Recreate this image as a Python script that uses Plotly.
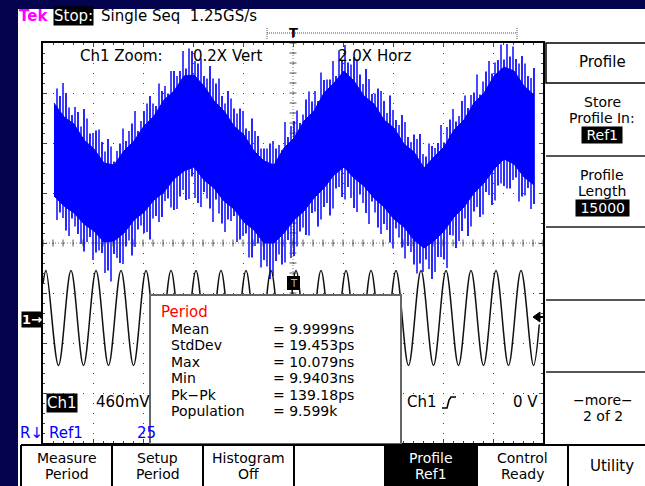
import plotly.graph_objects as go

# Screen x axis: main timebase, ns (20 ns/div, 10 div); y axis: divisions (-4..4)
# Ch1 main waveform (lower trace): extrema times (ns) and voltages (mV)
ch1_t = [0.0, 1.2, 6.2, 11.2, 16.2, 21.2, 26.2, 31.2, 36.2, 41.2, 46.2, 51.2, 56.2,
         61.2, 66.2, 71.2, 76.2, 81.2, 86.2, 91.2, 96.2, 101.2, 106.2, 111.2, 116.2,
         121.2, 126.2, 131.2, 136.2, 141.2, 146.2, 151.2, 156.2, 161.2, 166.2, 171.2,
         176.2, 181.2, 186.2, 191.2, 196.2, 198.5]
ch1_mv = [319, 437, -437, 437, -437, 437, -437, 437, -437, 437, -437, 437, -437,
          437, -437, 437, -437, 437, -437, 437, -437, 437, -437, 437, -437,
          437, -437, 437, -437, 437, -437, 437, -437, 437, -437, 437,
          -437, 437, -437, 437, -437, -60]
CH1_MV_PER_DIV = 460
CH1_OFFSET_DIV = -1.5

# Ch1 zoom trace (upper, blue): dense band envelope (divisions)
prof_t = [4.4, 8.4, 12.4, 16.4, 20.4, 24.4, 28.4, 32.4, 36.4, 40.4, 44.4, 48.4, 52.4,
          56.4, 60.4, 64.4, 68.4, 72.4, 76.4, 80.4, 84.4, 88.4, 92.4, 96.4, 100.4,
          104.4, 108.4, 112.4, 116.4, 120.4, 124.4, 128.4, 132.4, 136.4, 140.4, 144.4,
          148.4, 152.4, 156.4, 160.4, 164.4, 168.4, 172.4, 176.4, 180.4, 184.4, 188.4,
          192.4, 196.4]
prof_upper = [2.80, 2.52, 2.38, 2.06, 1.88, 1.60, 1.56, 1.84, 2.04, 2.34, 2.54, 2.86, 3.04,
              3.34, 3.36, 3.14, 2.84, 2.64, 2.34, 2.16, 1.84, 1.64, 1.56, 1.90, 2.10,
              2.44, 2.64, 3.00, 3.20, 3.44, 3.24, 2.94, 2.78, 2.46, 2.30, 1.98,
              1.82, 1.50, 1.72, 1.92, 2.26, 2.46, 2.80, 3.00, 3.34, 3.52, 3.44,
              3.14, 2.96]
prof_lower = [0.94, 0.74, 0.60, 0.38, 0.24, 0.02, 0.04, 0.20, 0.46, 0.62, 0.86, 1.02, 1.28,
              1.44, 1.52, 1.26, 1.10, 0.84, 0.68, 0.42, 0.26, 0.00, 0.00, 0.20, 0.46,
              0.64, 0.90, 1.10, 1.36, 1.52, 1.30, 1.14, 0.90, 0.72, 0.48, 0.32,
              0.06, -0.10, 0.04, 0.24, 0.52, 0.72, 1.00, 1.20, 1.48, 1.68, 1.58,
              1.32, 1.16]

# noise spikes of the zoom trace: time (ns), top and bottom tips (div) - two interleaved sets
spike_t = [5.6, 8.0, 10.4, 12.8, 15.2, 17.6, 20.0, 22.4, 24.8, 27.2, 29.6, 32.0, 34.4,
           36.8, 39.2, 41.6, 44.0, 46.4, 48.8, 51.2, 53.6, 56.0, 58.4, 60.8, 63.2, 65.6,
           68.0, 70.4, 72.8, 75.2, 77.6, 80.0, 82.4, 84.8, 87.2, 89.6, 92.0, 94.4, 96.8,
           99.2, 101.6, 104.0, 106.4, 108.8, 111.2, 113.6, 116.0, 118.4, 120.8, 123.2,
           125.6, 128.0, 130.4, 132.8, 135.2, 137.6, 140.0, 142.4, 144.8, 147.2, 149.6,
           152.0, 154.4, 156.8, 159.2, 161.6, 164.0, 166.4, 168.8, 171.2, 173.6, 176.0,
           178.4, 180.8, 183.2, 185.6, 188.0, 190.4, 192.8, 195.2]
spike_hi = [3.09, 3.20, 2.71, 2.72, 2.33, 2.49, 2.20, 2.27, 1.83, 1.93,
            1.84, 2.29, 2.24, 2.64, 2.44, 2.79, 2.79, 3.19, 3.14, 3.44,
            3.34, 3.84, 3.89, 3.64, 3.69, 3.29, 3.29, 3.29, 2.79, 2.89,
            2.59, 2.64, 2.24, 2.24, 1.89, 1.89, 2.04, 1.96, 2.42, 2.34,
            2.65, 2.57, 3.03, 3.04, 3.41, 3.27, 3.64, 3.85, 3.96, 3.57,
            3.67, 3.18, 3.28, 2.99, 3.04, 2.60, 2.66, 2.36, 2.42, 2.02,
            2.08, 1.78, 1.99, 1.90, 2.36, 2.32, 2.68, 2.54, 2.95, 2.96,
            3.37, 3.23, 3.64, 3.61, 3.97, 3.98, 3.93, 3.59, 3.59, 3.30]
spike_lo = [0.46, 0.50, 0.14, 0.33, -0.02, 0.02, -0.34, -0.15, -0.60, -0.77,
            -0.30, -0.42, 0.05, -0.08, 0.35, 0.22, 0.49, 0.42, 0.84, 0.71,
            0.68, 1.06, 0.88, 0.90, 0.72, 0.89, 0.42, 0.59, 0.22, 0.44,
            0.02, 0.14, -0.29, -0.06, -0.49, -0.47, -0.66, -0.23, -0.39, -0.30,
            -0.07, 0.31, 0.15, 0.63, 0.47, 0.80, 0.69, 1.12, 0.87, 0.90,
            0.62, 0.80, 0.38, 0.61, 0.18, 0.26, -0.11, 0.11, -0.31, -0.18,
            -0.61, -0.58, -0.52, -0.58, -0.28, -0.50, 0.15, 0.04, 0.49, 0.33,
            0.72, 0.57, 0.96, 0.85, 1.19, 1.09, 1.26, 0.83, 0.95, 0.68]
spike2_t = [6.8, 9.2, 11.6, 14.0, 16.4, 18.8, 21.2, 23.6, 26.0, 28.4, 30.8, 33.2, 35.6,
            38.0, 40.4, 42.8, 45.2, 47.6, 50.0, 52.4, 54.8, 57.2, 59.6, 62.0, 64.4, 66.8,
            69.2, 71.6, 74.0, 76.4, 78.8, 81.2, 83.6, 86.0, 88.4, 90.8, 93.2, 95.6, 98.0,
            100.4, 102.8, 105.2, 107.6, 110.0, 112.4, 114.8, 117.2, 119.6, 122.0, 124.4,
            126.8, 129.2, 131.6, 134.0, 136.4, 138.8, 141.2, 143.6, 146.0, 148.4, 150.8,
            153.2, 155.6, 158.0, 160.4, 162.8, 165.2, 167.6, 170.0, 172.4, 174.8, 177.2,
            179.6, 182.0, 184.4, 186.8, 189.2, 191.6, 194.0, 196.4]
spike2_hi = [2.94, 3.00, 2.56, 2.62, 2.68, 2.19, 2.25, 2.02, 2.08, 1.63,
             1.99, 2.04, 2.39, 2.24, 2.64, 2.94, 2.74, 3.04, 2.99, 3.44,
             3.44, 3.49, 3.84, 3.59, 3.34, 3.54, 3.19, 2.94, 3.04, 2.69,
             2.69, 2.29, 2.49, 2.14, 1.89, 1.99, 1.89, 1.86, 2.12, 2.44,
             2.40, 2.87, 2.83, 2.84, 3.26, 3.27, 3.34, 3.65, 3.61, 3.72,
             3.37, 3.48, 2.98, 3.09, 2.84, 2.95, 2.46, 2.56, 2.12, 2.17,
             2.18, 1.73, 1.94, 2.00, 2.01, 2.47, 2.43, 2.84, 2.70, 3.01,
             2.97, 3.43, 3.39, 3.66, 3.67, 3.73, 3.68, 3.74, 3.34, 3.50]
spike2_lo = [0.61, 0.25, 0.49, 0.18, -0.17, 0.12, -0.19, -0.20, -0.55, -0.22,
             -0.40, -0.07, -0.25, 0.27, 0.20, 0.07, 0.54, 0.52, 0.89, 0.66,
             0.93, 0.86, 1.33, 0.80, 1.02, 0.69, 0.87, 0.39, 0.47, 0.54,
             0.07, 0.19, -0.29, -0.01, -0.34, -0.72, -0.36, -0.43, 0.06, -0.26,
             0.23, 0.16, 0.60, 0.33, 0.72, 0.55, 1.09, 0.92, 1.12, 0.70,
             0.97, 0.60, 0.83, 0.31, 0.38, 0.01, 0.29, -0.09, -0.06, -0.43,
             -0.41, -0.33, -0.72, -0.28, -0.33, 0.16, -0.10, 0.24, 0.14, 0.63,
             0.52, 1.02, 0.76, 1.15, 1.14, 1.09, 1.31, 0.93, 1.10, 0.78]

# measurement readout
meas_labels = ["Mean", "StdDev", "Max", "Min", "Pk\u2212Pk", "Population"]
meas_values = ["= 9.9999ns", "= 19.453ps", "= 10.079ns", "= 9.9403ns", "= 139.18ps", "= 9.599k"]

# bottom menu
menu_labels = [("Measure", "Period"), ("Setup", "Period"), ("Histogram", "Off"), ("", ""),
               ("Profile", "Ref1"), ("Control", "Ready"), ("Utility", None)]

# ---------------- layout helpers ----------------
W, H = 645, 486
NAVY = "#03034e"
FONT = "DejaVu Sans"


def px(x):
    return x / W


def py(y):
    return 1 - y / H


fig = go.Figure()

# graticule centre tick marks
fig.add_trace(go.Scatter(x=[4 * i for i in range(51)], y=[0] * 51, mode="markers",
                         marker=dict(symbol="line-ns", size=5, line=dict(width=1, color="#555")),
                         hoverinfo="skip"))
fig.add_trace(go.Scatter(x=[100] * 41, y=[-4 + 0.2 * i for i in range(41)], mode="markers",
                         marker=dict(symbol="line-ew", size=5, line=dict(width=1, color="#555")),
                         hoverinfo="skip"))

# zoom trace spikes
for ts, his, los, col in [(spike_t, spike_hi, spike_lo, "rgb(40,40,255)"),
                          (spike2_t, spike2_hi, spike2_lo, "rgb(0,0,255)")]:
    sx, sy = [], []
    for t, hi, lo in zip(ts, his, los):
        sx += [t, t, None]
        sy += [lo, hi, None]
    fig.add_trace(go.Scatter(x=sx, y=sy, mode="lines", line=dict(color=col, width=1.7),
                             hoverinfo="skip"))
# zoom trace dense band
fig.add_trace(go.Scatter(x=prof_t, y=prof_lower, mode="lines", line=dict(color="#0000ff", width=1),
                         hoverinfo="skip"))
fig.add_trace(go.Scatter(x=prof_t, y=prof_upper, mode="lines", line=dict(color="#0000ff", width=1),
                         fill="tonexty", fillcolor="#0000ff", hoverinfo="skip"))

# Ch1 main waveform
ch1_div = [CH1_OFFSET_DIV + v / CH1_MV_PER_DIV for v in ch1_mv]
fig.add_trace(go.Scatter(x=ch1_t, y=ch1_div, mode="lines", line=dict(color="#111", width=1.5, shape="spline"),
                         hoverinfo="skip"))

shapes = []
# white screen background
shapes.append(dict(type="rect", xref="paper", yref="paper", x0=px(18), x1=1.02, y0=-0.02, y1=py(9),
                   fillcolor="white", line=dict(width=0), layer="below"))
# centre lines
shapes.append(dict(type="line", xref="x", yref="y", x0=0, x1=200, y0=0, y1=0,
                   line=dict(color="#777", width=1, dash="1px,2px"), layer="below"))
shapes.append(dict(type="line", xref="x", yref="y", x0=100, x1=100, y0=-4, y1=4,
                   line=dict(color="#777", width=1, dash="1px,2px"), layer="below"))
# measurement box
shapes.append(dict(type="rect", xref="paper", yref="paper", x0=px(150), x1=px(401), y0=py(444), y1=py(295),
                   fillcolor="white", line=dict(color="#666", width=2), layer="above"))
# trigger point marker
shapes.append(dict(type="rect", xref="paper", yref="paper", x0=px(287), x1=px(300), y0=py(290), y1=py(276),
                   fillcolor="black", line=dict(width=0), layer="above"))
# trigger level arrow (right edge)
shapes.append(dict(type="path", xref="paper", yref="paper",
                   path=f"M {px(533)},{py(317)} L {px(540)},{py(312)} L {px(540)},{py(322)} Z",
                   fillcolor="black", line=dict(color="black", width=1), layer="above"))
shapes.append(dict(type="line", xref="paper", yref="paper", x0=px(539), x1=px(543), y0=py(317), y1=py(317),
                   line=dict(color="black", width=2), layer="above"))
# trigger slope glyph
shapes.append(dict(type="path", xref="paper", yref="paper",
                   path=(f"M {px(442)},{py(408)} L {px(447)},{py(408)} L {px(449)},{py(400)} "
                         f"L {px(451)},{py(397)} L {px(456)},{py(397)}"),
                   line=dict(color="black", width=1.6), layer="above"))
# right panel
shapes.append(dict(type="rect", xref="paper", yref="paper", x0=px(546), x1=px(665), y0=py(83), y1=py(43),
                   fillcolor="white", line=dict(color="black", width=1.5), layer="above"))
for yy in [156, 227, 300, 372]:
    shapes.append(dict(type="line", xref="paper", yref="paper", x0=px(546), x1=1.02, y0=py(yy), y1=py(yy),
                       line=dict(color="#555", width=2), layer="above"))
# menu bar
shapes.append(dict(type="rect", xref="paper", yref="paper", x0=px(385), x1=px(477), y0=-0.02, y1=py(445),
                   fillcolor="black", line=dict(width=0), layer="above"))
shapes.append(dict(type="line", xref="paper", yref="paper", x0=px(21), x1=1.02, y0=py(445), y1=py(445),
                   line=dict(color="black", width=2), layer="above"))
for xx in [21, 112, 203, 294, 385, 477, 568]:
    shapes.append(dict(type="line", xref="paper", yref="paper", x0=px(xx), x1=px(xx), y0=py(445), y1=-0.02,
                       line=dict(color="black", width=2), layer="above"))
# trigger position bar (top)
shapes.append(dict(type="line", xref="paper", yref="paper", x0=px(267), x1=px(517), y0=py(33), y1=py(33),
                   line=dict(color="#555", width=1, dash="1px,1px"), layer="above"))
for xx in [267, 517]:
    shapes.append(dict(type="line", xref="paper", yref="paper", x0=px(xx), x1=px(xx), y0=py(28), y1=py(39),
                       line=dict(color="#555", width=1, dash="1px,1px"), layer="above"))
shapes.append(dict(type="line", xref="paper", yref="paper", x0=px(293), x1=px(293), y0=py(29), y1=py(38),
                   line=dict(color="#ff00ff", width=2), layer="above"))

ann = []


def txt(s, x, y, size=15, color="black", anchor="left", bg=None, bold=False, pad=0):
    d = dict(text=(f"<b>{s}</b>" if bold else s), x=px(x), y=py(y), xref="paper", yref="paper",
             xanchor=anchor, yanchor="middle", showarrow=False,
             font=dict(family=FONT, size=size, color=color), borderpad=pad)
    if bg:
        d["bgcolor"] = bg
    ann.append(d)


S = 14  # size for tightly stacked lines
# header
txt("Tek", 18, 16, color="#ff00ff", bold=True)
txt("Stop:", 53, 16, color="white", bg="black")
txt("Single Seq\u00a0\u00a01.25GS/s", 100, 16)
txt("T", 293, 32, size=13, bold=True, anchor="center")
# zoom labels
txt("Ch1 Zoom:", 79, 56)
txt("0.2X Vert", 192, 56)
txt("2.0X Horz", 337, 56)
# channel marker and trigger point
txt("1\u2192", 32, 319, size=13, color="white", bg="black", anchor="center", bold=True)
txt("T", 293.5, 283, size=10, color="#bbb", anchor="center")
# measurement readout
txt("Period", 160, 312, size=15, color="#ff0000")
for i, (lab, val) in enumerate(zip(meas_labels, meas_values)):
    txt(lab, 170, 329 + 16.4 * i, size=S)
    txt(val, 272, 329 + 16.4 * i, size=S)
# bottom readouts
txt("Ch1", 61.5, 402.5, color="white", bg="black", anchor="center")
txt("460mV", 95, 402)
txt("Ch1", 406, 402)
txt("0 V", 539, 402, anchor="right")
txt("R\u2193", 19, 433, color="#0000ff")
txt("Ref1", 48, 433, color="#0000ff")
txt("25", 136, 433, color="#0000ff")
# right panel
txt("Profile", 602, 62, anchor="center")
txt("Store", 602, 101.8, size=S, anchor="center")
txt("Profile In:", 602, 118.2, size=S, anchor="center")
txt("\u00a0Ref1\u00a0", 602, 135.2, size=S, color="white", bg="black", anchor="center")
txt("Profile", 602, 174.8, size=S, anchor="center")
txt("Length", 602, 191.2, size=S, anchor="center")
txt("\u00a015000\u00a0", 602, 207.8, size=S, color="white", bg="black", anchor="center")
txt("\u2212more\u2212", 603, 399.8, size=S, anchor="center")
txt("2 of 2", 603, 416.2, size=S, anchor="center")
# menu
centers = [66.5, 157.5, 248.5, 339.5, 431, 522.5, 612]
for c, (l1, l2) in zip(centers, menu_labels):
    col = "white" if l1 == "Profile" else "black"
    if l2 is None:
        txt(l1, c, 466, anchor="center", color=col)
    elif l1:
        txt(l1, c, 457.8, size=S, anchor="center", color=col)
        txt(l2, c, 474.2, size=S, anchor="center", color=col)

fig.update_layout(
    width=W, height=H, margin=dict(l=0, r=0, t=0, b=0),
    paper_bgcolor=NAVY, plot_bgcolor="white", showlegend=False,
    shapes=shapes, annotations=ann,
    xaxis=dict(domain=[px(43), px(543)], range=[0, 200], dtick=20, showgrid=True,
               gridcolor="#444", griddash="1px,9px", gridwidth=1, zeroline=False,
               showticklabels=False, ticks="inside", ticklen=4, tickcolor="#444",
               minor=dict(ticks="inside", dtick=4, ticklen=2, tickcolor="#444", showgrid=False),
               showline=True, linecolor="black", linewidth=1.5, mirror="ticks", fixedrange=True),
    yaxis=dict(domain=[py(443), py(43)], range=[-4, 4], dtick=1, showgrid=True,
               gridcolor="#444", griddash="1px,9px", gridwidth=1, zeroline=False,
               showticklabels=False, ticks="inside", ticklen=4, tickcolor="#444",
               minor=dict(ticks="inside", dtick=0.2, ticklen=2, tickcolor="#444", showgrid=False),
               showline=True, linecolor="black", linewidth=1.5, mirror="ticks", fixedrange=True),
)

fig.write_html("out.html")
